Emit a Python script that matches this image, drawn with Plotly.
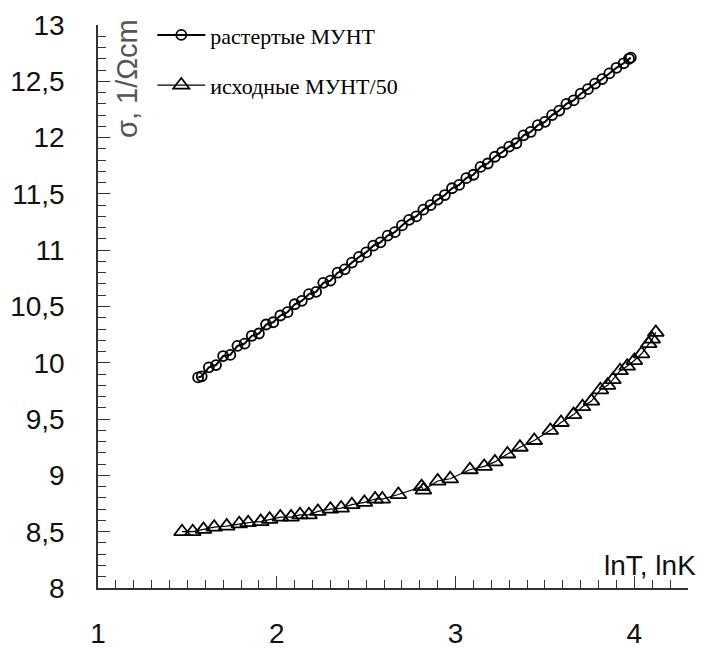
import plotly.graph_objects as go

# растертые МУНТ (circles)
x_rast = [1.56, 1.58, 1.62, 1.66, 1.70, 1.74, 1.78, 1.82, 1.86, 1.90, 1.94, 1.98,
          2.02, 2.06, 2.10, 2.14, 2.18, 2.22, 2.26, 2.30, 2.34, 2.38, 2.42, 2.46,
          2.50, 2.54, 2.58, 2.62, 2.66, 2.70, 2.74, 2.78, 2.82, 2.86, 2.90, 2.94,
          2.98, 3.02, 3.06, 3.10, 3.14, 3.18, 3.22, 3.26, 3.30, 3.34, 3.38, 3.42,
          3.46, 3.50, 3.54, 3.58, 3.62, 3.66, 3.70, 3.74, 3.78, 3.82, 3.86, 3.90,
          3.94, 3.97, 3.98]
y_rast = [9.87, 9.88, 9.96, 9.98, 10.06, 10.07, 10.15, 10.17, 10.24, 10.26, 10.34, 10.36,
          10.42, 10.45, 10.52, 10.55, 10.61, 10.63, 10.71, 10.73, 10.80, 10.83, 10.89, 10.94,
          10.98, 11.04, 11.07, 11.13, 11.16, 11.22, 11.27, 11.30, 11.36, 11.40, 11.45, 11.49,
          11.55, 11.58, 11.64, 11.67, 11.74, 11.77, 11.83, 11.87, 11.92, 11.95, 12.02, 12.05,
          12.11, 12.14, 12.20, 12.24, 12.30, 12.33, 12.39, 12.43, 12.48, 12.52, 12.57, 12.62,
          12.66, 12.70, 12.71]

# исходные МУНТ/50 (triangles)
x_isx = [1.47, 1.53, 1.59, 1.65, 1.72, 1.79, 1.84, 1.91, 1.96, 2.02, 2.08, 2.13,
         2.18, 2.23, 2.30, 2.36, 2.42, 2.49, 2.55, 2.59, 2.68, 2.81, 2.82, 2.90,
         2.97, 3.08, 3.16, 3.22, 3.29, 3.36, 3.44, 3.53, 3.59, 3.66, 3.71, 3.76,
         3.81, 3.85, 3.88, 3.92, 3.96, 4.00, 4.04, 4.08, 4.10, 4.12]
y_isx = [8.50, 8.50, 8.52, 8.54, 8.55, 8.57, 8.58, 8.59, 8.61, 8.63, 8.63, 8.65,
         8.65, 8.68, 8.70, 8.71, 8.74, 8.76, 8.79, 8.79, 8.83, 8.90, 8.87, 8.95,
         8.97, 9.05, 9.08, 9.12, 9.19, 9.25, 9.31, 9.40, 9.47, 9.54, 9.61, 9.66,
         9.76, 9.80, 9.85, 9.93, 9.97, 10.02, 10.08, 10.17, 10.21, 10.27]

name_rast = "растертые МУНТ"
name_isx = "исходные МУНТ/50"
x_title = "lnT, lnK"
y_title = "σ, 1/Ωcm"

fig = go.Figure()
fig.add_trace(go.Scatter(
    x=x_rast, y=y_rast, mode="lines+markers", name=name_rast,
    line=dict(color="black", width=2),
    marker=dict(symbol="circle-open", size=10, color="black", line=dict(width=1.8)),
    legend="legend",
))
fig.add_trace(go.Scatter(
    x=x_isx, y=y_isx, mode="lines+markers", name=name_isx,
    line=dict(color="black", width=1.2),
    marker=dict(symbol="triangle-up-open", size=14, color="black", line=dict(width=1.8)),
    legend="legend2",
))

axis_col = "#333333"
tick_font = dict(family="Liberation Sans, Arial", size=28, color="#111111")
leg_font = dict(family="Liberation Serif, Times New Roman", size=22, color="black")

fig.update_layout(
    width=703, height=648,
    margin=dict(l=98, r=15, t=25, b=60, autoexpand=False),
    paper_bgcolor="white", plot_bgcolor="white",
    separators=", ",
    showlegend=True,
    legend=dict(x=0.092, y=0.982, xanchor="left", yanchor="middle",
                xref="paper", yref="paper",
                bgcolor="rgba(0,0,0,0)", itemwidth=48, font=leg_font),
    legend2=dict(x=0.092, y=0.893, xanchor="left", yanchor="middle",
                 xref="paper", yref="paper",
                 bgcolor="rgba(0,0,0,0)", itemwidth=48, font=leg_font),
    xaxis=dict(
        range=[1, 4.3], showgrid=False, zeroline=False, automargin=False,
        showline=True, linecolor=axis_col, linewidth=1.5,
        tick0=1, dtick=1, ticks="inside", ticklen=12, tickwidth=1.2, tickcolor=axis_col,
        minor=dict(dtick=0.1, ticks="inside", ticklen=8, tickwidth=1.2, tickcolor=axis_col),
        tickfont=tick_font, ticklabelstandoff=20,
    ),
    yaxis=dict(
        range=[8, 13], showgrid=False, zeroline=False, automargin=False,
        showline=True, linecolor=axis_col, linewidth=1.5,
        tick0=8, dtick=0.5, ticks="inside", ticklen=12, tickwidth=1.2, tickcolor=axis_col,
        minor=dict(dtick=0.1, ticks="inside", ticklen=8, tickwidth=1.2, tickcolor=axis_col),
        tickfont=tick_font, ticklabelstandoff=26,
    ),
    annotations=[
        dict(text=x_title, xref="paper", yref="paper", x=1.017, y=0.008,
             xanchor="right", yanchor="bottom", showarrow=False,
             font=dict(family="Liberation Sans, Arial", size=28, color="#111111")),
        dict(text=y_title, xref="paper", yref="paper", x=0.05, y=0.905,
             xanchor="center", yanchor="middle", textangle=-90, showarrow=False,
             font=dict(family="Liberation Sans, Arial", size=29, color="#555555")),
    ],
)

fig.write_html("out.html")
